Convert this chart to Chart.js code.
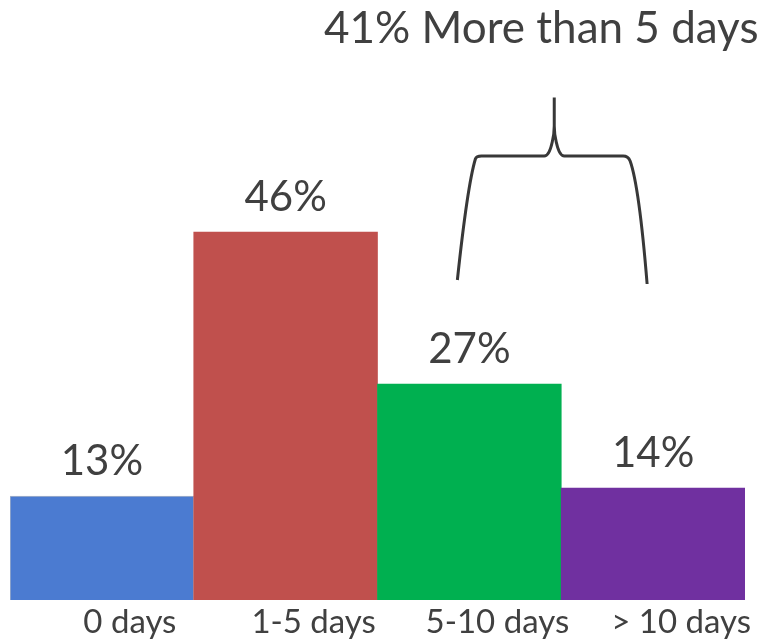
<!DOCTYPE html>
<html>
<head>
<meta charset="utf-8">
<script src="https://cdn.jsdelivr.net/npm/chart.js@4"></script>
<style>
  html, body { margin:0; padding:0; background:#fff; }
  #wrap { width:761px; height:639px; }
</style>
</head>
<body>
<div id="wrap"><canvas id="chart"></canvas></div>
<script>
const categories = ["0 days", "1-5 days", "5-10 days", "> 10 days"];
const shares = [13, 46, 27, 14];
const barColors = ["#4b7bd1", "#c0504d", "#00b050", "#7030a0"];
const braceNote = "41% More than 5 days";

const FONT = "Lato, 'Open Sans', sans-serif";
const TEXT = "#404040";

// labels above bars
const valueLabels = {
  id: "valueLabels",
  afterDatasetsDraw(chart){
    const ctx = chart.ctx;
    const meta = chart.getDatasetMeta(0);
    ctx.save();
    ctx.fillStyle = TEXT;
    ctx.font = "42px " + FONT;
    ctx.textAlign = "center";
    ctx.textBaseline = "alphabetic";
    meta.data.forEach((bar,i)=>{
      ctx.fillText(shares[i] + "%", bar.x, bar.y - 21);
    });
    ctx.restore();
  }
};

// curly bracket over the last two bars
const brace = {
  id: "brace",
  afterDraw(chart){
    const ctx = chart.ctx;
    const x = chart.scales.x, y = chart.scales.y;
    const left = x.getPixelForValue(2) - 12;
    const right = x.getPixelForValue(3) - 6;
    const mid = (left + right) / 2 + 2;
    const top = y.getPixelForValue(55.5);
    const tip = y.getPixelForValue(62.8);
    const lEnd = y.getPixelForValue(40);
    const rEnd = y.getPixelForValue(39.5);

    ctx.save();
    ctx.strokeStyle = "#383838";
    ctx.lineWidth = 3;
    ctx.lineJoin = "round";
    ctx.lineCap = "butt";
    ctx.beginPath();
    ctx.moveTo(left, lEnd);
    ctx.quadraticCurveTo(left + 10, top + 30, left + 18, top + 3);
    ctx.quadraticCurveTo(left + 19, top, left + 24, top);
    ctx.lineTo(mid - 10, top);
    ctx.quadraticCurveTo(mid - 5, top, mid - 2, top - 14);
    ctx.quadraticCurveTo(mid, top - 22, mid, top - 30);
    ctx.lineTo(mid, tip);
    ctx.moveTo(mid, top - 30);
    ctx.quadraticCurveTo(mid, top - 22, mid + 2, top - 14);
    ctx.quadraticCurveTo(mid + 5, top, mid + 10, top);
    ctx.lineTo(right - 24, top);
    ctx.quadraticCurveTo(right - 19, top, right - 17, top + 5);
    ctx.quadraticCurveTo(right - 8, top + 30, right, rEnd);
    ctx.stroke();

    ctx.fillStyle = TEXT;
    ctx.font = "44px " + FONT;
    ctx.textAlign = "center";
    ctx.textBaseline = "alphabetic";
    ctx.fillText(braceNote, mid - 13, 43);
    ctx.restore();
  }
};

new Chart(document.getElementById("chart"), {
  type: "bar",
  data: {
    labels: categories,
    datasets: [{
      data: shares,
      backgroundColor: barColors,
      borderColor: ["#a8b4c8", "transparent", "transparent", "transparent"],
      borderWidth: [1, 0, 0, 0],
      barPercentage: 1,
      categoryPercentage: 1
    }]
  },
  options: {
    responsive: true,
    maintainAspectRatio: false,
    animation: false,
    layout: { padding: { left: 10, right: 16, top: 0, bottom: 0 } },
    plugins: { legend: { display: false }, tooltip: { enabled: false } },
    scales: {
      x: {
        grid: { display: false, drawTicks: false },
        border: { display: false },
        ticks: {
          color: TEXT,
          font: { family: FONT, size: 33 },
          labelOffset: 28,
          padding: 3,
          maxRotation: 0,
          autoSkip: false
        },
        afterFit(scale){ scale.height = 39; }
      },
      y: {
        display: false,
        min: 0,
        max: 75
      }
    }
  },
  plugins: [valueLabels, brace]
});
</script>
</body>
</html>
